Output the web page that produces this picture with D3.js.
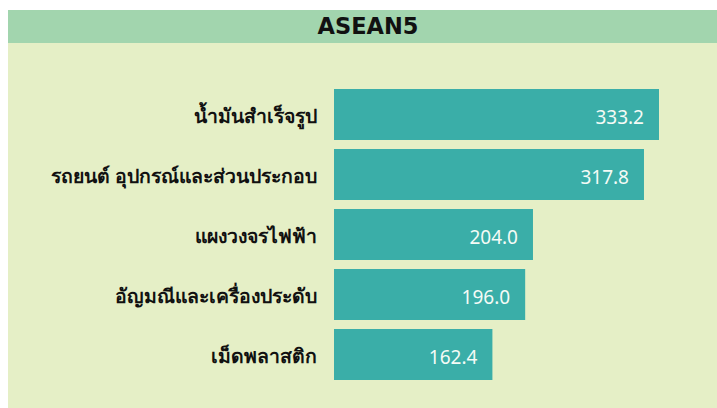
<!DOCTYPE html>
<html>
<head>
<meta charset="utf-8">
<script src="https://cdn.jsdelivr.net/npm/d3@7"></script>
<style>
  body { margin: 0; background: #fff; }
  svg { display: block; }
</style>
</head>
<body>
<div id="chart"></div>
<script>
(function(){
    var width = 717,
        height = 408;

    // data
    var categories = ["น้ำมันสำเร็จรูป", "รถยนต์ อุปกรณ์และส่วนประกอบ", "แผงวงจรไฟฟ้า", "อัญมณีและเครื่องประดับ", "เม็ดพลาสติก"];
    var values = [333.2, 317.8, 204.0, 196.0, 162.4];
    var title = "ASEAN5";

    var rows = categories.map(function(c, i){ return {name: c, value: values[i]}; });

    var svg = d3.select("#chart")
      .append("svg")
      .attr("width", width)
      .attr("height", height)

    // panel background
    svg.append("rect")
      .attr("x", 8).attr("y", 43)
      .attr("width", width - 8).attr("height", 365)
      .attr("fill", "#e5efc6")

    // title band
    svg.append("rect")
      .attr("x", 8).attr("y", 10)
      .attr("width", width - 8).attr("height", 33)
      .attr("fill", "#a2d5ae")

    svg.append("text")
      .attr("x", 368).attr("y", 34)
      .attr("text-anchor", "middle")
      .attr("font-family", "'DejaVu Sans', sans-serif")
      .attr("font-weight", "bold")
      .attr("font-size", 22.5)
      .attr("fill", "#111")
      .text(title)

    var x = d3.scaleLinear().domain([0, 333.2]).range([334, 659])
    var y = d3.scaleBand()
      .domain(categories)
      .range([84.5, 384.5])
      .paddingInner(0.15)
      .paddingOuter(0.075)

    var g = svg.append("g")

    g.selectAll(".bar")
      .data(rows)
      .enter().append("rect")
      .attr("class", "bar")
      .attr("x", x(0))
      .attr("y", function(d){ return y(d.name) })
      .attr("width", function(d){ return x(d.value) - x(0) })
      .attr("height", y.bandwidth())
      .attr("fill", "#3aaea8")

    // value labels inside bars
    g.selectAll(".val")
      .data(rows)
      .enter().append("text")
      .attr("class", "val")
      .attr("x", function(d){ return x(d.value) - 15 })
      .attr("y", function(d){ return y(d.name) + y.bandwidth() / 2 + 9 })
      .attr("text-anchor", "end")
      .attr("font-family", "'Noto Sans', sans-serif")
      .attr("font-size", 19)
      .attr("fill", "#f4fbf6")
      .text(function(d){ return d3.format(".1f")(d.value) })

    // category labels
    g.selectAll(".cat")
      .data(rows)
      .enter().append("text")
      .attr("class", "cat")
      .attr("x", 317)
      .attr("y", function(d){ return y(d.name) + y.bandwidth() / 2 + 8.8 })
      .attr("text-anchor", "end")
      .attr("font-family", "'Noto Sans', sans-serif")
      .attr("font-weight", "bold")
      .attr("font-size", 19.4)
      .attr("fill", "#111")
      .text(function(d){ return d.name })
})();
</script>
</body>
</html>
